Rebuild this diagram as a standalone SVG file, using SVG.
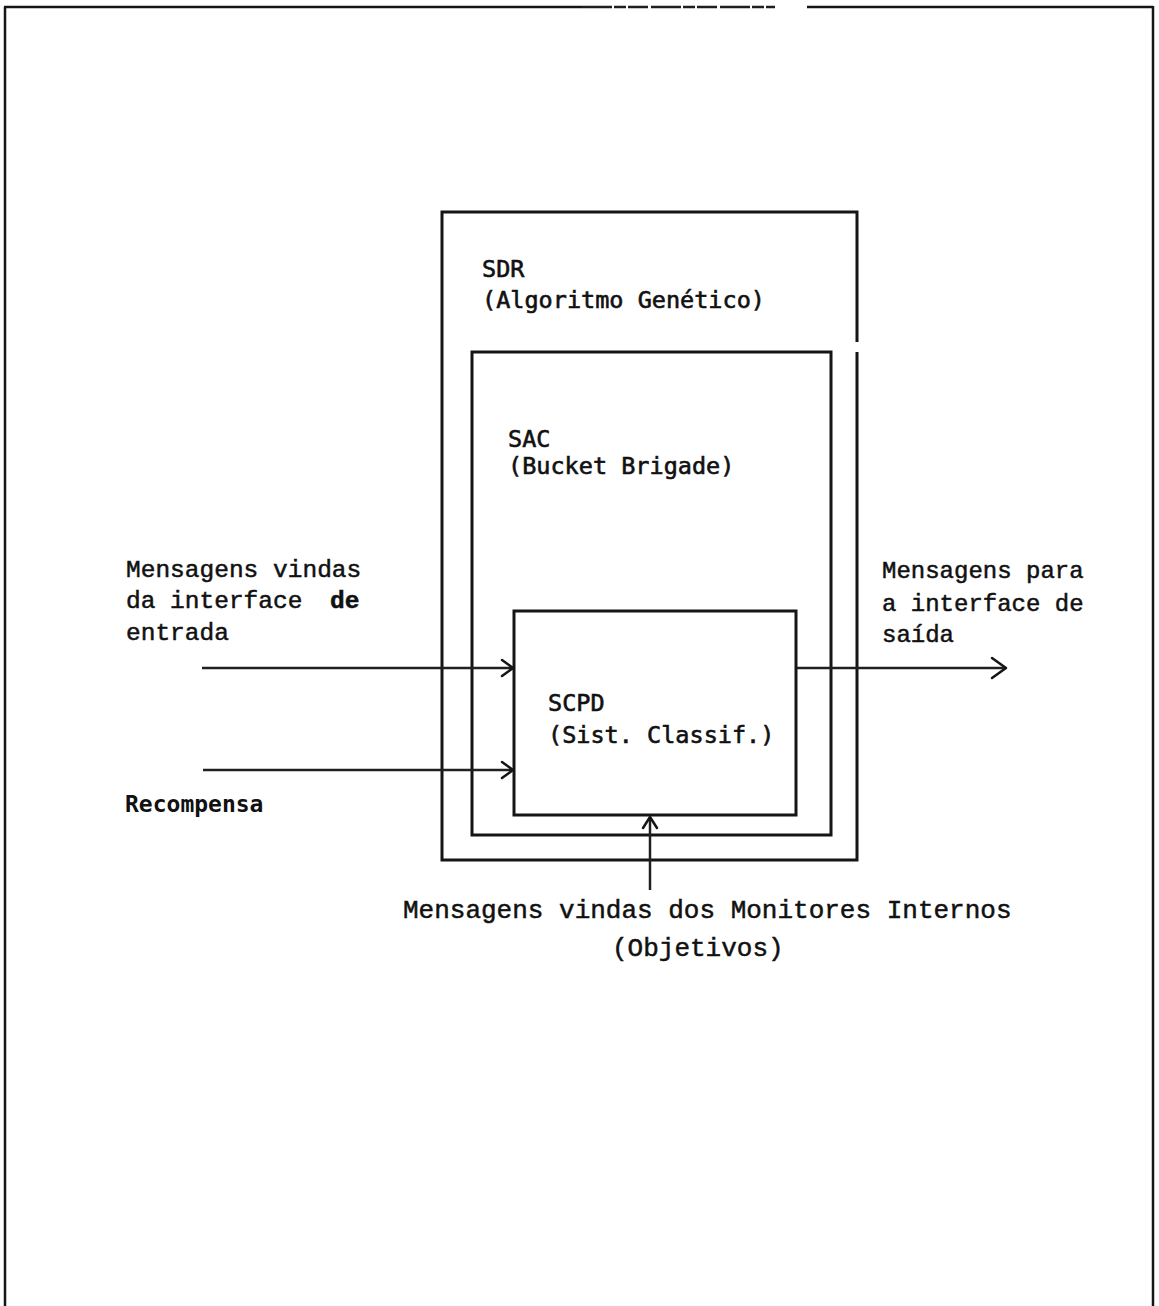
<svg xmlns="http://www.w3.org/2000/svg" width="1159" height="1306" viewBox="0 0 1159 1306">
  <style>
    .box { fill: none; stroke: #151515; stroke-width: 3; }
    .frame { fill: none; stroke: #151515; stroke-width: 2.5; }
    .wire { fill: none; stroke: #202020; stroke-width: 2.5; }
    .head { fill: none; stroke: #151515; stroke-width: 2.5; stroke-linecap: round; stroke-linejoin: round; }
    .lbl { font-family: "DejaVu Sans Mono", "Liberation Mono", monospace; font-size: 23.5px; fill: #111; stroke: #111; stroke-width: 0.6px; }
    .type { font-family: "Liberation Mono", "Courier New", monospace; font-size: 24px; fill: #111; stroke: #111; stroke-width: 0.5px; }
    .big { font-size: 26px; }
    .left { font-size: 24.5px; }
    .reward { font-weight: bold; font-size: 23px; stroke-width: 0; }
  </style>
  <rect width="1159" height="1306" fill="#ffffff"/>

  <g id="page-frame">
    <line class="frame" x1="5" y1="7" x2="5" y2="1306"/>
    <line class="frame" x1="4" y1="7" x2="582" y2="7"/>
    <line x1="582" y1="7" x2="775" y2="7" stroke="#1e1e1e" stroke-width="2.5" stroke-dasharray="30 2 12 2 20 3"/>
    <line class="frame" x1="807" y1="7" x2="1153" y2="7"/>
    <line class="frame" x1="1153" y1="6" x2="1153" y2="1306"/>
  </g>

  <g id="node-sdr">
    <polyline class="box" points="857,342 857,212 442,212 442,860 857,860 857,352"/>
    <text class="lbl" x="482" y="277">SDR</text>
    <text class="lbl" x="482" y="308">(Algoritmo Genético)</text>
  </g>

  <g id="node-sac">
    <rect class="box" x="472" y="352" width="359" height="483"/>
    <text class="lbl" x="508" y="447">SAC</text>
    <text class="lbl" x="508" y="474">(Bucket Brigade)</text>
  </g>

  <g id="node-scpd">
    <rect class="box" x="514" y="611" width="282" height="204"/>
    <text class="lbl" x="548" y="711">SCPD</text>
    <text class="lbl" x="548" y="743">(Sist. Classif.)</text>
  </g>

  <g id="connectors">
    <line class="wire" x1="202" y1="668" x2="513" y2="668"/>
    <polyline class="head" points="502,660 513,668 502,676"/>
    <line class="wire" x1="203" y1="770" x2="513" y2="770"/>
    <polyline class="head" points="502,762 513,770 502,778"/>
    <line class="wire" x1="797" y1="668" x2="1006" y2="668"/>
    <polyline class="head" points="992,658 1006,668 992,678"/>
    <line class="wire" x1="650" y1="890" x2="650" y2="817"/>
    <polyline class="head" points="643,828 650,817 657,828"/>
  </g>

  <g id="label-input">
    <text class="type left" x="126" y="577">Mensagens vindas</text>
    <text class="type left" x="126" y="608">da interface</text>
    <text class="type left" x="330" y="608" style="font-weight:bold">de</text>
    <text class="type left" x="126" y="640">entrada</text>
  </g>

  <g id="label-reward">
    <text class="lbl reward" x="125" y="812">Recompensa</text>
  </g>

  <g id="label-output">
    <text class="type" x="882" y="578">Mensagens para</text>
    <text class="type" x="882" y="611">a interface de</text>
    <text class="type" x="882" y="642">saída</text>
  </g>

  <g id="label-monitors">
    <text class="type big" x="403" y="918">Mensagens vindas dos Monitores Internos</text>
    <text class="type big" x="612" y="956">(Objetivos)</text>
  </g>
</svg>
